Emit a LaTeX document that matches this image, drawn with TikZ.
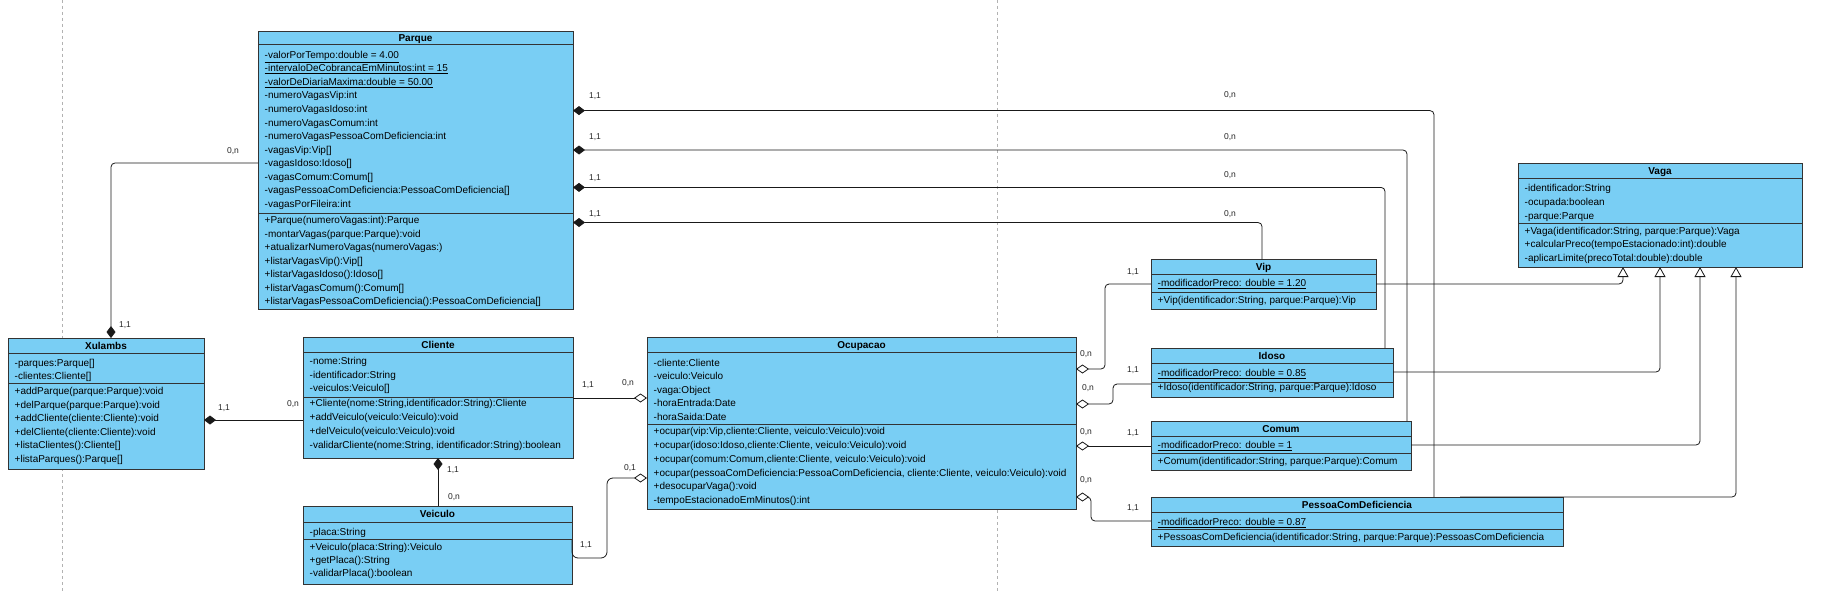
\documentclass[tikz,border=0pt]{standalone}
\usepackage{fontspec}
\setmainfont{Liberation Sans}
\usetikzlibrary{arrows.meta}
\definecolor{clsfill}{HTML}{79CEF4}
\definecolor{clsline}{HTML}{333333}
\tikzset{
 cls/.style={draw=clsline, fill=clsfill, line width=0.9pt, inner sep=0pt, outer sep=0pt, rectangle},
 sepl/.style={draw=clsline, line width=0.9pt},
 ttl/.style={font=\fontsize{10}{12}\selectfont\bfseries, inner sep=0pt, anchor=base},
 rowtxt/.style={font=\fontsize{10}{12}\selectfont, inner sep=0pt, anchor=base west},
 lbl/.style={font=\fontsize{8.5}{10}\selectfont, inner sep=0pt, text=black!85},
 conn/.style={draw=black!90, line width=0.8pt, rounded corners=4pt},
 comp/.style={conn, {Diamond[length=12pt,width=9pt]}-},
 aggs/.style={conn, {Diamond[open,fill=white,length=13pt,width=9pt]}-},
 agge/.style={conn, -{Diamond[open,fill=white,length=13pt,width=9pt]}},
 inh/.style={conn, -{Triangle[open,fill=white,length=10pt,width=11pt]}},
 guide/.style={draw=black!30, dashed, line width=0.6pt},
}
\newcommand\umlclass[8]{%
 \node[cls, anchor=north west, minimum width={(#4-#2)*1pt}, minimum height={(#5-#3)*1pt}] (#1) at (#2,#3) {};
 \draw[sepl] (#2,#6) -- (#4,#6);
 \draw[sepl] (#2,#7) -- (#4,#7);
 \node[ttl] at ({(#2+#4)/2},{(#3+#6)/2+3.6}) {#8};
}
\newcommand\classrows[4]{%
 \foreach \t [count=\i from 0] in {#4} \node[rowtxt] at ({#1+6.5},{#2+\i*#3+3.6}) {\t};
}
\newcommand\ulrow[3]{%
 \node[rowtxt] at ({#1+6.5},{#2+3.6}) {\underline{#3}};
}
\begin{document}
\begin{tikzpicture}[x=1pt,y=-1pt]
\useasboundingbox (0,0) rectangle (1825,591);
\fill[white] (0,0) rectangle (1825,591);
% guides
\draw[guide] (62,0) -- (62,591);
\draw[guide] (997,0) -- (997,591);

% Parque
\umlclass{park}{258}{31}{573}{309}{44}{213}{Parque}
\ulrow{258}{54.7}{-valorPorTempo:double = 4.00}
\ulrow{258}{68.25}{-intervaloDeCobrancaEmMinutos:int = 15}
\ulrow{258}{81.8}{-valorDeDiariaMaxima:double = 50.00}
\classrows{258}{95.35}{13.55}{-numeroVagasVip:int,-numeroVagasIdoso:int,-numeroVagasComum:int,-numeroVagasPessoaComDeficiencia:int,-vagasVip:Vip[],-vagasIdoso:Idoso[],-vagasComum:Comum[],-vagasPessoaComDeficiencia:PessoaComDeficiencia[],-vagasPorFileira:int}
\classrows{258}{220}{13.5}{+Parque(numeroVagas:int):Parque,-montarVagas(parque:Parque):void,+atualizarNumeroVagas(numeroVagas:),+listarVagasVip():Vip[],+listarVagasIdoso():Idoso[],+listarVagasComum():Comum[],+listarVagasPessoaComDeficiencia():PessoaComDeficiencia[]}

% Xulambs
\umlclass{xul}{8}{338}{204}{469}{353}{383}{Xulambs}
\classrows{8}{362.7}{13.3}{-parques:Parque[],-clientes:Cliente[]}
\classrows{8}{391}{13.5}{+addParque(parque:Parque):void,+delParque(parque:Parque):void,+addCliente(cliente:Cliente):void,+delCliente(cliente:Cliente):void,+listaClientes():Cliente[],+listaParques():Parque[]}

% Cliente
\umlclass{cli}{303}{337}{573}{458}{352}{397}{Cliente}
\classrows{303}{361}{13.65}{-nome:String,-identificador:String,-veiculos:Veiculo[]}
\classrows{303}{403.3}{13.9}{{+Cliente(nome:String,identificador:String):Cliente},+addVeiculo(veiculo:Veiculo):void,+delVeiculo(veiculo:Veiculo):void,{-validarCliente(nome:String, identificador:String):boolean}}

% Veiculo
\umlclass{vei}{303}{506}{572}{584}{522}{539}{Veiculo}
\classrows{303}{531.7}{13.3}{-placa:String}
\classrows{303}{546.7}{13.3}{+Veiculo(placa:String):Veiculo,+getPlaca():String,-validarPlaca():boolean}

% Ocupacao
\umlclass{oc}{647}{337}{1076}{509}{352}{424}{Ocupacao}
\classrows{647}{362.7}{13.5}{-cliente:Cliente,-veiculo:Veiculo,-vaga:Object,-horaEntrada:Date,-horaSaida:Date}
\classrows{647}{431}{13.8}{{+ocupar(vip:Vip,cliente:Cliente, veiculo:Veiculo):void},{+ocupar(idoso:Idoso,cliente:Cliente, veiculo:Veiculo):void},{+ocupar(comum:Comum,cliente:Cliente, veiculo:Veiculo):void},{+ocupar(pessoaComDeficiencia:PessoaComDeficiencia, cliente:Cliente, veiculo:Veiculo):void},+desocuparVaga():void,-tempoEstacionadoEmMinutos():int}

% Vip
\umlclass{vip}{1151}{259}{1376}{309}{274}{292}{Vip}
\ulrow{1151}{283.3}{-modificadorPreco: double = 1.20}
\classrows{1151}{300}{13.5}{{+Vip(identificador:String, parque:Parque):Vip}}

% Idoso
\umlclass{ido}{1151}{348}{1393}{397}{363}{382}{Idoso}
\ulrow{1151}{372.7}{-modificadorPreco: double = 0.85}
\classrows{1151}{387.3}{13.5}{{+Idoso(identificador:String, parque:Parque):Idoso}}

% Comum
\umlclass{com}{1151}{421}{1411}{470}{436}{453}{Comum}
\ulrow{1151}{445}{-modificadorPreco: double = 1}
\classrows{1151}{461}{13.5}{{+Comum(identificador:String, parque:Parque):Comum}}

% PessoaComDeficiencia
\umlclass{pcd}{1151}{497}{1563}{546}{512}{529}{PessoaComDeficiencia}
\ulrow{1151}{521.7}{-modificadorPreco: double = 0.87}
\classrows{1151}{536.7}{13.5}{{+PessoasComDeficiencia(identificador:String, parque:Parque):PessoasComDeficiencia}}

% Vaga
\umlclass{vaga}{1518}{163}{1802}{267}{178}{223}{Vaga}
\classrows{1518}{187.7}{14}{-identificador:String,-ocupada:boolean,-parque:Parque}
\classrows{1518}{230.7}{13.5}{{+Vaga(identificador:String, parque:Parque):Vaga},+calcularPreco(tempoEstacionado:int):double,-aplicarLimite(precoTotal:double):double}

% ---- connectors ----
% Xulambs - Parque
\draw[comp] ([xshift=5pt]xul.north) -- (111,163) -- (park.west |- 0,163);
\node[lbl] at (125,325) {1,1};
\node[lbl] at (233,151) {0,n};
% Parque - subclasses
\draw[comp] (park.east |- 0,110.6) -- (1434,110.6) -- (pcd.north -| 1434,0);
\draw[comp] (park.east |- 0,150) -- (1407,150) -- (com.north -| 1407,0);
\draw[comp] (park.east |- 0,187.4) -- (1385,187.4) -- (ido.north -| 1385,0);
\draw[comp] (park.east |- 0,222.5) -- (1262,222.5) -- (vip.north -| 1262,0);
\foreach \yy/\zz in {96.6/95.4,137/137,178/174.6,214/214}{
 \node[lbl] at (595,\yy) {1,1};
 \node[lbl] at (1230,\zz) {0,n};
}
% Xulambs - Cliente
\draw[comp] (xul.east |- 0,420) -- (cli.west |- 0,420);
\node[lbl] at (224,408) {1,1};
\node[lbl] at (293,404) {0,n};
% Cliente - Ocupacao
\draw[agge] (cli.east |- 0,398) -- (oc.west |- 0,398);
\node[lbl] at (588,385) {1,1};
\node[lbl] at (628,383) {0,n};
% Veiculo - Ocupacao
\draw[agge, rounded corners=6pt] (vei.east |- 0,540) -- (vei.east |- 0,558) -- (607,558) -- (607,478) -- (oc.west |- 0,478);
\node[lbl] at (586,545) {1,1};
\node[lbl] at (630,468) {0,1};
% Cliente - Veiculo
\draw[comp] (cli.south -| 438,0) -- (vei.north -| 438,0);
\node[lbl] at (453,470) {1,1};
\node[lbl] at (454,497) {0,n};
% Ocupacao - subclasses
\draw[aggs] (oc.east |- 0,369) -- (1105,369) -- (1105,284) -- (vip.west |- 0,284);
\node[lbl] at (1086,354) {0,n};
\node[lbl] at (1133,272) {1,1};
\draw[aggs] (oc.east |- 0,404) -- (1113,404) -- (1113,384) -- (ido.west |- 0,384);
\node[lbl] at (1088,388) {0,n};
\node[lbl] at (1133,370) {1,1};
\draw[aggs] (oc.east |- 0,446) -- (com.west |- 0,446);
\node[lbl] at (1086,432) {0,n};
\node[lbl] at (1133,433) {1,1};
\draw[aggs] (oc.east |- 0,497) -- (1091,497) -- (1091,521) -- (pcd.west |- 0,521);
\node[lbl] at (1086,480) {0,n};
\node[lbl] at (1133,508) {1,1};
% inheritance
\draw[inh] (vip.east |- 0,284) -- (1623,284) -- (vaga.south -| 1623,0);
\draw[inh] (ido.east |- 0,372) -- (1660,372) -- (vaga.south -| 1660,0);
\draw[inh] (com.east |- 0,445) -- (1700,445) -- (vaga.south -| 1700,0);
\draw[inh] (pcd.north -| 1460,0) -- (1736,497) -- (vaga.south -| 1736,0);
\end{tikzpicture}
\end{document}
